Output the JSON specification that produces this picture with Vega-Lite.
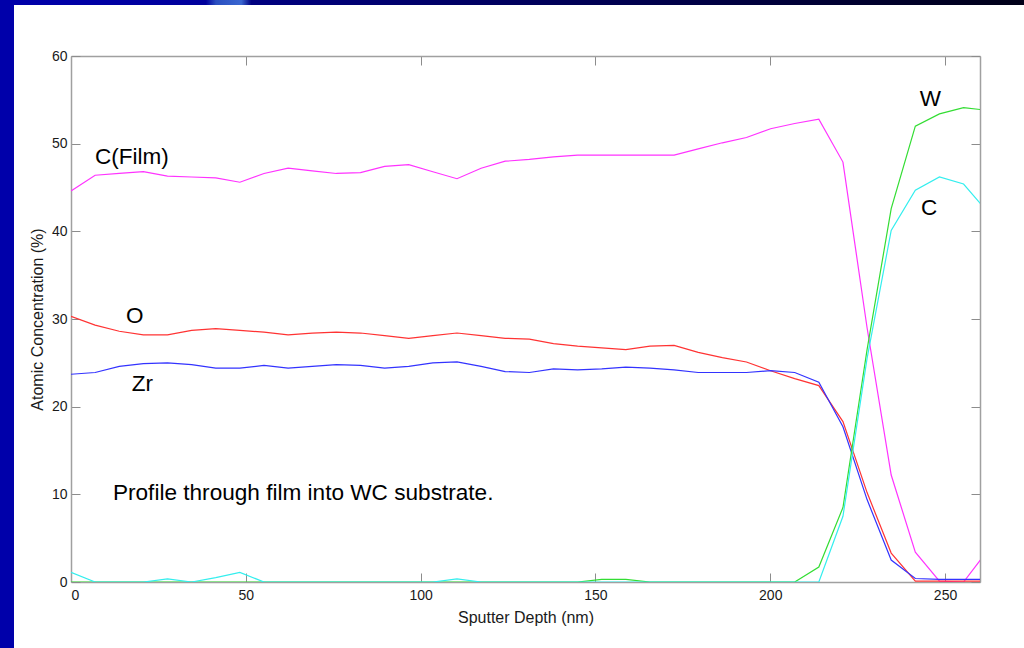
{
  "$schema": "https://vega.github.io/schema/vega-lite/v6.json",
  "background": "white",
  "padding": 0,
  "bounds": "flush",
  "spacing": 0,
  "config": {
    "view": {"stroke": null},
    "font": "Liberation Sans",
    "axis": {
      "grid": false,
      "zindex": 1,
      "domainColor": "#a0a0a0",
      "domainWidth": 1.5,
      "tickColor": "#8c8c8c",
      "tickWidth": 1,
      "tickSize": -9,
      "labelFont": "Liberation Sans",
      "labelFontSize": 14,
      "labelColor": "#1a1a1a",
      "titleFont": "Liberation Sans",
      "titleFontSize": 16,
      "titleFontWeight": "normal",
      "titleColor": "#1a1a1a"
    }
  },
  "hconcat": [
    {
      "width": 14,
      "height": 648,
      "data": {"values": [{"part": "side band"}]},
      "mark": {"type": "rect", "color": "#0000aa"},
      "encoding": {}
    },
    {
      "bounds": "flush",
      "spacing": 51,
      "vconcat": [
        {
          "width": 1010,
          "height": 5,
          "data": {"values": [{"part": "top band"}]},
          "mark": {
            "type": "rect",
            "color": {
              "gradient": "linear",
              "x1": 0, "y1": 0, "x2": 1, "y2": 0,
              "stops": [
                {"offset": 0, "color": "#0000aa"},
                {"offset": 0.19, "color": "#00009c"},
                {"offset": 0.2, "color": "#2a4fc0"},
                {"offset": 0.225, "color": "#3a66d0"},
                {"offset": 0.235, "color": "#000080"},
                {"offset": 0.6, "color": "#000050"},
                {"offset": 1, "color": "#000018"}
              ]
            }
          },
          "encoding": {}
        },
        {
          "bounds": "flush",
          "spacing": 56,
          "hconcat": [
            {
              "width": 1,
              "height": 1,
              "data": {"values": [{"part": "gap"}]},
              "mark": {"type": "rect", "opacity": 0},
              "encoding": {}
            },
            {
              "width": 909,
              "height": 526,
              "resolve": {"axis": {"x": "independent", "y": "independent"}},
              "layer": [
                {
                  "data": {
                    "values": [
                      {"depth": 0, "element": "C(Film)", "conc": 44.6},
                      {"depth": 6.9, "element": "C(Film)", "conc": 46.4},
                      {"depth": 13.8, "element": "C(Film)", "conc": 46.6},
                      {"depth": 20.7, "element": "C(Film)", "conc": 46.8},
                      {"depth": 27.6, "element": "C(Film)", "conc": 46.3},
                      {"depth": 34.5, "element": "C(Film)", "conc": 46.2},
                      {"depth": 41.4, "element": "C(Film)", "conc": 46.1},
                      {"depth": 48.3, "element": "C(Film)", "conc": 45.6},
                      {"depth": 55.2, "element": "C(Film)", "conc": 46.6},
                      {"depth": 62.1, "element": "C(Film)", "conc": 47.2},
                      {"depth": 69.0, "element": "C(Film)", "conc": 46.9},
                      {"depth": 75.9, "element": "C(Film)", "conc": 46.6},
                      {"depth": 82.8, "element": "C(Film)", "conc": 46.7},
                      {"depth": 89.7, "element": "C(Film)", "conc": 47.4},
                      {"depth": 96.6, "element": "C(Film)", "conc": 47.6},
                      {"depth": 103.5, "element": "C(Film)", "conc": 46.8},
                      {"depth": 110.4, "element": "C(Film)", "conc": 46.0},
                      {"depth": 117.3, "element": "C(Film)", "conc": 47.2},
                      {"depth": 124.2, "element": "C(Film)", "conc": 48.0},
                      {"depth": 131.1, "element": "C(Film)", "conc": 48.2},
                      {"depth": 138.0, "element": "C(Film)", "conc": 48.5},
                      {"depth": 144.9, "element": "C(Film)", "conc": 48.7},
                      {"depth": 151.8, "element": "C(Film)", "conc": 48.7},
                      {"depth": 158.7, "element": "C(Film)", "conc": 48.7},
                      {"depth": 165.6, "element": "C(Film)", "conc": 48.7},
                      {"depth": 172.5, "element": "C(Film)", "conc": 48.7},
                      {"depth": 179.4, "element": "C(Film)", "conc": 49.4},
                      {"depth": 186.3, "element": "C(Film)", "conc": 50.1},
                      {"depth": 193.2, "element": "C(Film)", "conc": 50.7},
                      {"depth": 200.1, "element": "C(Film)", "conc": 51.7},
                      {"depth": 207.0, "element": "C(Film)", "conc": 52.3},
                      {"depth": 213.9, "element": "C(Film)", "conc": 52.8},
                      {"depth": 220.8, "element": "C(Film)", "conc": 47.9},
                      {"depth": 227.7, "element": "C(Film)", "conc": 29.0},
                      {"depth": 234.6, "element": "C(Film)", "conc": 12.2},
                      {"depth": 241.5, "element": "C(Film)", "conc": 3.4},
                      {"depth": 248.4, "element": "C(Film)", "conc": 0.1},
                      {"depth": 255.3, "element": "C(Film)", "conc": 0.0},
                      {"depth": 262.2, "element": "C(Film)", "conc": 3.6},

                      {"depth": 0, "element": "O", "conc": 30.3},
                      {"depth": 6.9, "element": "O", "conc": 29.3},
                      {"depth": 13.8, "element": "O", "conc": 28.6},
                      {"depth": 20.7, "element": "O", "conc": 28.2},
                      {"depth": 27.6, "element": "O", "conc": 28.2},
                      {"depth": 34.5, "element": "O", "conc": 28.7},
                      {"depth": 41.4, "element": "O", "conc": 28.9},
                      {"depth": 48.3, "element": "O", "conc": 28.7},
                      {"depth": 55.2, "element": "O", "conc": 28.5},
                      {"depth": 62.1, "element": "O", "conc": 28.2},
                      {"depth": 69.0, "element": "O", "conc": 28.4},
                      {"depth": 75.9, "element": "O", "conc": 28.5},
                      {"depth": 82.8, "element": "O", "conc": 28.4},
                      {"depth": 89.7, "element": "O", "conc": 28.1},
                      {"depth": 96.6, "element": "O", "conc": 27.8},
                      {"depth": 103.5, "element": "O", "conc": 28.1},
                      {"depth": 110.4, "element": "O", "conc": 28.4},
                      {"depth": 117.3, "element": "O", "conc": 28.1},
                      {"depth": 124.2, "element": "O", "conc": 27.8},
                      {"depth": 131.1, "element": "O", "conc": 27.7},
                      {"depth": 138.0, "element": "O", "conc": 27.2},
                      {"depth": 144.9, "element": "O", "conc": 26.9},
                      {"depth": 151.8, "element": "O", "conc": 26.7},
                      {"depth": 158.7, "element": "O", "conc": 26.5},
                      {"depth": 165.6, "element": "O", "conc": 26.9},
                      {"depth": 172.5, "element": "O", "conc": 27.0},
                      {"depth": 179.4, "element": "O", "conc": 26.2},
                      {"depth": 186.3, "element": "O", "conc": 25.6},
                      {"depth": 193.2, "element": "O", "conc": 25.1},
                      {"depth": 200.1, "element": "O", "conc": 24.1},
                      {"depth": 207.0, "element": "O", "conc": 23.2},
                      {"depth": 213.9, "element": "O", "conc": 22.4},
                      {"depth": 220.8, "element": "O", "conc": 18.3},
                      {"depth": 227.7, "element": "O", "conc": 10.2},
                      {"depth": 234.6, "element": "O", "conc": 3.3},
                      {"depth": 241.5, "element": "O", "conc": 0.1},
                      {"depth": 248.4, "element": "O", "conc": 0.1},
                      {"depth": 255.3, "element": "O", "conc": 0.1},
                      {"depth": 262.2, "element": "O", "conc": 0.1},

                      {"depth": 0, "element": "Zr", "conc": 23.7},
                      {"depth": 6.9, "element": "Zr", "conc": 23.9},
                      {"depth": 13.8, "element": "Zr", "conc": 24.6},
                      {"depth": 20.7, "element": "Zr", "conc": 24.9},
                      {"depth": 27.6, "element": "Zr", "conc": 25.0},
                      {"depth": 34.5, "element": "Zr", "conc": 24.8},
                      {"depth": 41.4, "element": "Zr", "conc": 24.4},
                      {"depth": 48.3, "element": "Zr", "conc": 24.4},
                      {"depth": 55.2, "element": "Zr", "conc": 24.7},
                      {"depth": 62.1, "element": "Zr", "conc": 24.4},
                      {"depth": 69.0, "element": "Zr", "conc": 24.6},
                      {"depth": 75.9, "element": "Zr", "conc": 24.8},
                      {"depth": 82.8, "element": "Zr", "conc": 24.7},
                      {"depth": 89.7, "element": "Zr", "conc": 24.4},
                      {"depth": 96.6, "element": "Zr", "conc": 24.6},
                      {"depth": 103.5, "element": "Zr", "conc": 25.0},
                      {"depth": 110.4, "element": "Zr", "conc": 25.1},
                      {"depth": 117.3, "element": "Zr", "conc": 24.6},
                      {"depth": 124.2, "element": "Zr", "conc": 24.0},
                      {"depth": 131.1, "element": "Zr", "conc": 23.9},
                      {"depth": 138.0, "element": "Zr", "conc": 24.3},
                      {"depth": 144.9, "element": "Zr", "conc": 24.2},
                      {"depth": 151.8, "element": "Zr", "conc": 24.3},
                      {"depth": 158.7, "element": "Zr", "conc": 24.5},
                      {"depth": 165.6, "element": "Zr", "conc": 24.4},
                      {"depth": 172.5, "element": "Zr", "conc": 24.2},
                      {"depth": 179.4, "element": "Zr", "conc": 23.9},
                      {"depth": 186.3, "element": "Zr", "conc": 23.9},
                      {"depth": 193.2, "element": "Zr", "conc": 23.9},
                      {"depth": 200.1, "element": "Zr", "conc": 24.1},
                      {"depth": 207.0, "element": "Zr", "conc": 23.9},
                      {"depth": 213.9, "element": "Zr", "conc": 22.8},
                      {"depth": 220.8, "element": "Zr", "conc": 17.7},
                      {"depth": 227.7, "element": "Zr", "conc": 9.4},
                      {"depth": 234.6, "element": "Zr", "conc": 2.5},
                      {"depth": 241.5, "element": "Zr", "conc": 0.4},
                      {"depth": 248.4, "element": "Zr", "conc": 0.3},
                      {"depth": 255.3, "element": "Zr", "conc": 0.3},
                      {"depth": 262.2, "element": "Zr", "conc": 0.3},

                      {"depth": 0, "element": "W", "conc": 0},
                      {"depth": 6.9, "element": "W", "conc": 0},
                      {"depth": 13.8, "element": "W", "conc": 0},
                      {"depth": 20.7, "element": "W", "conc": 0},
                      {"depth": 27.6, "element": "W", "conc": 0},
                      {"depth": 34.5, "element": "W", "conc": 0},
                      {"depth": 41.4, "element": "W", "conc": 0},
                      {"depth": 48.3, "element": "W", "conc": 0},
                      {"depth": 55.2, "element": "W", "conc": 0},
                      {"depth": 62.1, "element": "W", "conc": 0},
                      {"depth": 69.0, "element": "W", "conc": 0},
                      {"depth": 75.9, "element": "W", "conc": 0},
                      {"depth": 82.8, "element": "W", "conc": 0},
                      {"depth": 89.7, "element": "W", "conc": 0},
                      {"depth": 96.6, "element": "W", "conc": 0},
                      {"depth": 103.5, "element": "W", "conc": 0},
                      {"depth": 110.4, "element": "W", "conc": 0},
                      {"depth": 117.3, "element": "W", "conc": 0},
                      {"depth": 124.2, "element": "W", "conc": 0},
                      {"depth": 131.1, "element": "W", "conc": 0},
                      {"depth": 138.0, "element": "W", "conc": 0},
                      {"depth": 144.9, "element": "W", "conc": 0},
                      {"depth": 151.8, "element": "W", "conc": 0.3},
                      {"depth": 158.7, "element": "W", "conc": 0.3},
                      {"depth": 165.6, "element": "W", "conc": 0},
                      {"depth": 172.5, "element": "W", "conc": 0},
                      {"depth": 179.4, "element": "W", "conc": 0},
                      {"depth": 186.3, "element": "W", "conc": 0},
                      {"depth": 193.2, "element": "W", "conc": 0},
                      {"depth": 200.1, "element": "W", "conc": 0},
                      {"depth": 207.0, "element": "W", "conc": 0},
                      {"depth": 213.9, "element": "W", "conc": 1.7},
                      {"depth": 220.8, "element": "W", "conc": 8.5},
                      {"depth": 227.7, "element": "W", "conc": 26.5},
                      {"depth": 234.6, "element": "W", "conc": 42.6},
                      {"depth": 241.5, "element": "W", "conc": 52.0},
                      {"depth": 248.4, "element": "W", "conc": 53.4},
                      {"depth": 255.3, "element": "W", "conc": 54.1},
                      {"depth": 262.2, "element": "W", "conc": 53.8},

                      {"depth": 0, "element": "C", "conc": 1.1},
                      {"depth": 6.9, "element": "C", "conc": 0},
                      {"depth": 13.8, "element": "C", "conc": 0},
                      {"depth": 20.7, "element": "C", "conc": 0},
                      {"depth": 27.6, "element": "C", "conc": 0.35},
                      {"depth": 34.5, "element": "C", "conc": 0},
                      {"depth": 41.4, "element": "C", "conc": 0.5},
                      {"depth": 48.3, "element": "C", "conc": 1.1},
                      {"depth": 55.2, "element": "C", "conc": 0},
                      {"depth": 62.1, "element": "C", "conc": 0},
                      {"depth": 69.0, "element": "C", "conc": 0},
                      {"depth": 75.9, "element": "C", "conc": 0},
                      {"depth": 82.8, "element": "C", "conc": 0},
                      {"depth": 89.7, "element": "C", "conc": 0},
                      {"depth": 96.6, "element": "C", "conc": 0},
                      {"depth": 103.5, "element": "C", "conc": 0},
                      {"depth": 110.4, "element": "C", "conc": 0.35},
                      {"depth": 117.3, "element": "C", "conc": 0},
                      {"depth": 124.2, "element": "C", "conc": 0},
                      {"depth": 131.1, "element": "C", "conc": 0},
                      {"depth": 138.0, "element": "C", "conc": 0},
                      {"depth": 144.9, "element": "C", "conc": 0},
                      {"depth": 151.8, "element": "C", "conc": 0},
                      {"depth": 158.7, "element": "C", "conc": 0},
                      {"depth": 165.6, "element": "C", "conc": 0},
                      {"depth": 172.5, "element": "C", "conc": 0},
                      {"depth": 179.4, "element": "C", "conc": 0},
                      {"depth": 186.3, "element": "C", "conc": 0},
                      {"depth": 193.2, "element": "C", "conc": 0},
                      {"depth": 200.1, "element": "C", "conc": 0},
                      {"depth": 207.0, "element": "C", "conc": 0},
                      {"depth": 213.9, "element": "C", "conc": 0},
                      {"depth": 220.8, "element": "C", "conc": 7.5},
                      {"depth": 227.7, "element": "C", "conc": 25.5},
                      {"depth": 234.6, "element": "C", "conc": 40.1},
                      {"depth": 241.5, "element": "C", "conc": 44.7},
                      {"depth": 248.4, "element": "C", "conc": 46.2},
                      {"depth": 255.3, "element": "C", "conc": 45.4},
                      {"depth": 262.2, "element": "C", "conc": 42.2}
                    ]
                  },
                  "mark": {"type": "line", "strokeWidth": 1.2, "clip": true},
                  "encoding": {
                    "x": {
                      "field": "depth",
                      "type": "quantitative",
                      "scale": {"domain": [0, 260], "nice": false, "zero": false},
                      "axis": {
                        "values": [0, 50, 100, 150, 200, 250],
                        "title": "Sputter Depth (nm)",
                        "labelPadding": 15,
                        "titlePadding": 7
                      }
                    },
                    "y": {
                      "field": "conc",
                      "type": "quantitative",
                      "scale": {"domain": [0, 60], "nice": false},
                      "axis": {
                        "values": [0, 10, 20, 30, 40, 50, 60],
                        "title": "Atomic Concentration (%)",
                        "labelPadding": 13,
                        "titlePadding": 6
                      }
                    },
                    "color": {
                      "field": "element",
                      "type": "nominal",
                      "scale": {
                        "domain": ["C(Film)", "O", "Zr", "W", "C"],
                        "range": ["#ff33ff", "#ff3333", "#3333ff", "#33dd33", "#33eeee"]
                      },
                      "legend": null
                    }
                  }
                },
                {
                  "data": {
                    "values": [
                      {"label": "C(Film)", "depth": 6.9, "conc": 47.7},
                      {"label": "O", "depth": 15.7, "conc": 29.5},
                      {"label": "Zr", "depth": 17.4, "conc": 21.8},
                      {"label": "W", "depth": 242.8, "conc": 54.3},
                      {"label": "C", "depth": 243.1, "conc": 41.9}
                    ]
                  },
                  "mark": {"type": "text", "align": "left", "baseline": "alphabetic", "fontSize": 22.5, "font": "Liberation Sans", "color": "#000000"},
                  "encoding": {
                    "x": {
                      "field": "depth",
                      "type": "quantitative",
                      "axis": {"orient": "top", "labels": false, "title": null, "values": [0, 50, 100, 150, 200, 250]}
                    },
                    "y": {
                      "field": "conc",
                      "type": "quantitative",
                      "axis": {"orient": "right", "labels": false, "title": null, "values": [0, 10, 20, 30, 40, 50, 60]}
                    },
                    "text": {"field": "label"}
                  }
                },
                {
                  "data": {"values": [{"note": "Profile through film into WC substrate.", "depth": 12.0, "conc": 9.4}]},
                  "mark": {"type": "text", "align": "left", "baseline": "alphabetic", "fontSize": 22.6, "font": "Liberation Sans", "color": "#000000"},
                  "encoding": {
                    "x": {"field": "depth", "type": "quantitative", "axis": null},
                    "y": {"field": "conc", "type": "quantitative", "axis": null},
                    "text": {"field": "note"}
                  }
                }
              ]
            }
          ]
        }
      ]
    }
  ]
}
